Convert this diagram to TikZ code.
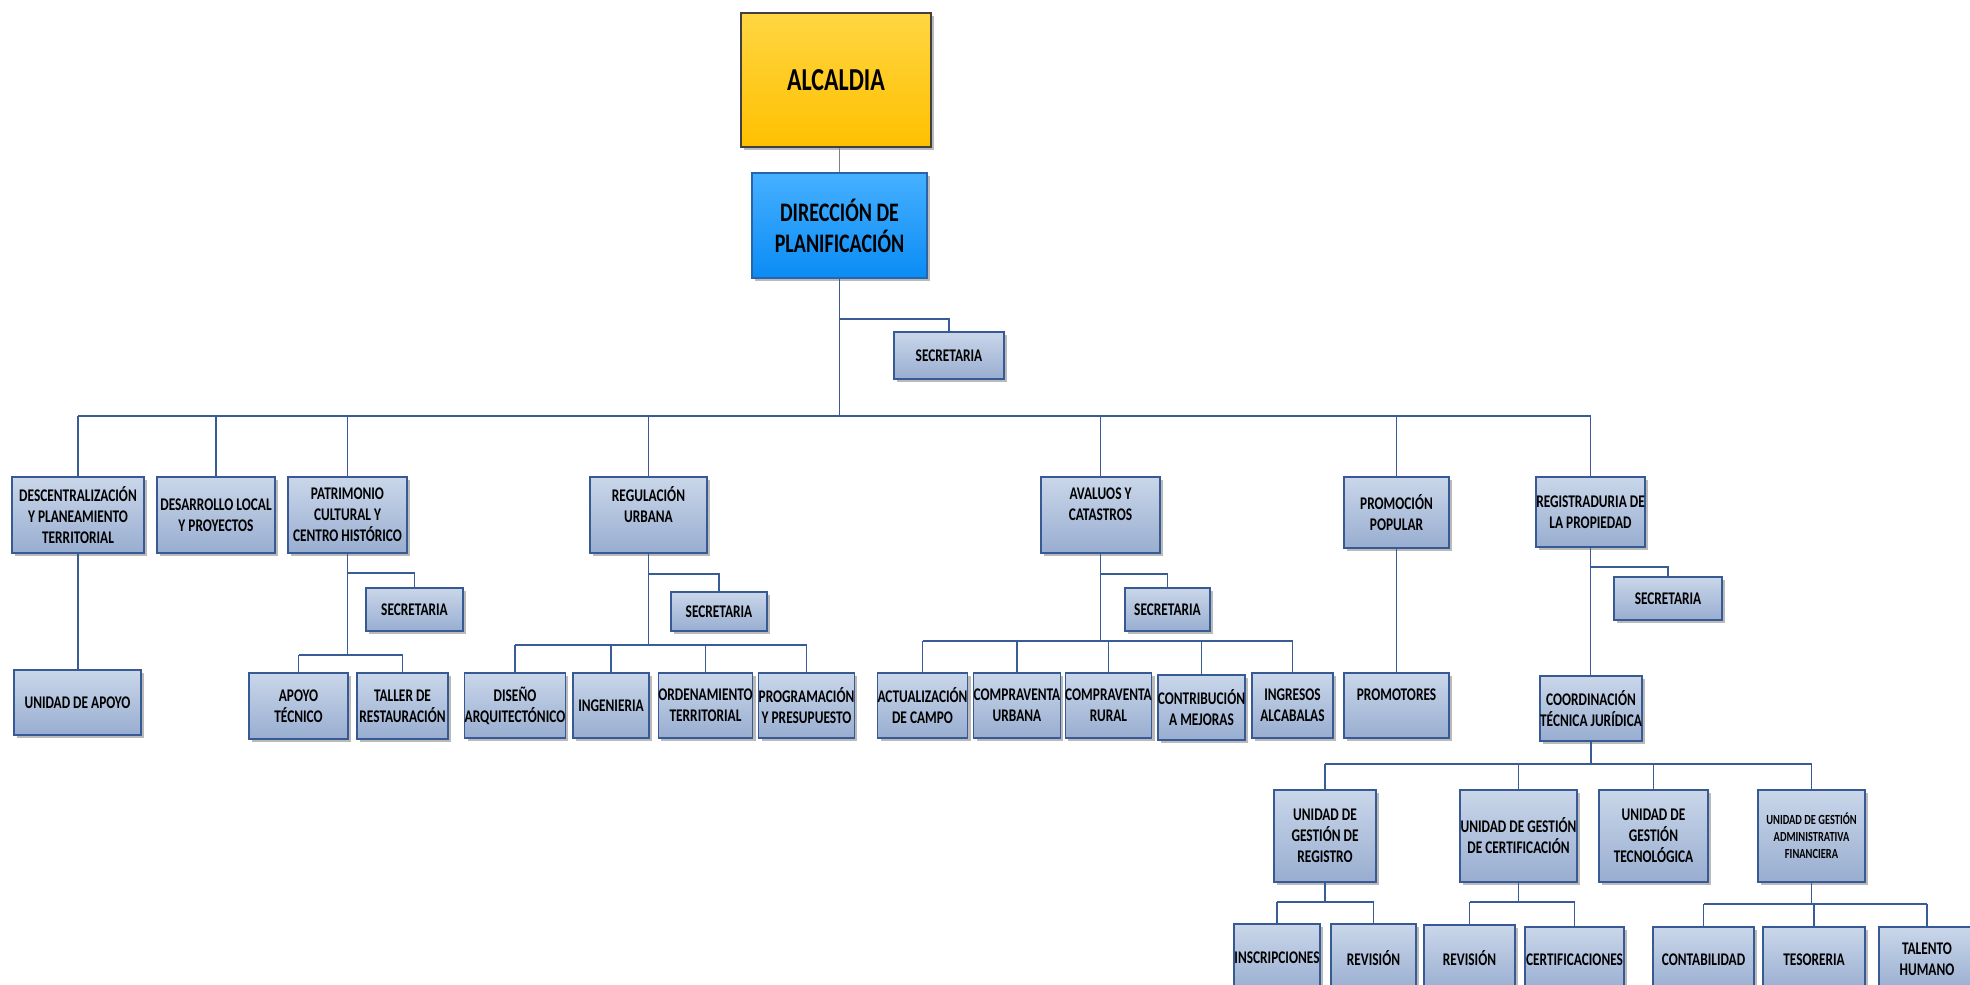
\documentclass[tikz,border=0pt]{standalone}
\usepackage{fontspec}
\setmainfont{Carlito}[FakeStretch=0.75]
\usetikzlibrary{shadows}
\definecolor{bxtop}{RGB}{202,215,234}
\definecolor{bxbot}{RGB}{152,173,208}
\definecolor{bxline}{RGB}{56,90,148}
\definecolor{cnline}{RGB}{58,92,150}
\definecolor{altop}{RGB}{255,214,66}
\definecolor{albot}{RGB}{255,192,0}
\definecolor{dirtop}{RGB}{70,176,255}
\definecolor{dirbot}{RGB}{10,140,245}
\definecolor{dirline}{RGB}{40,100,170}
\tikzset{
  box/.style={rectangle, inner sep=0pt, align=center, top color=bxtop, bottom color=bxbot,
    draw=bxline, line width=1.4pt, font=\bfseries\fontsize{17.8}{21}\selectfont,
    drop shadow={shadow xshift=3pt, shadow yshift=-3pt, fill=black!45, opacity=0.6}},
  alcbox/.style={box, top color=altop, bottom color=albot, draw=black!75, line width=2pt,
    font=\bfseries\fontsize{32}{38}\selectfont},
  dirbox/.style={box, top color=dirtop, bottom color=dirbot, draw=dirline, line width=2pt,
    font=\bfseries\fontsize{26.7}{31}\selectfont},
  smallbox/.style={box, font=\bfseries\fontsize{13.9}{17}\selectfont},
  conn/.style={draw=cnline, line width=1.3pt},
  greyconn/.style={draw=black!50, line width=1.5pt}
}
\newcommand\bx[7][box]{%
  \pgfmathsetmacro\bxcx{(#3+#5)/2}\pgfmathsetmacro\bxcy{(#4+#6)/2}%
  \pgfmathsetmacro\bxw{#5-#3}\pgfmathsetmacro\bxh{#6-#4}%
  \node[#1, minimum width=\bxw pt, minimum height=\bxh pt] (#2) at (\bxcx,\bxcy) {#7};}
\begin{document}
\begin{tikzpicture}[x=1pt,y=-1pt]
\fill[white] (0,0) rectangle (1970,985);
\clip (0,0) rectangle (1970,985);
% top
\bx[alcbox]{alc}{741}{13}{931}{147}{ALCALDIA}
\bx[dirbox]{dir}{752}{173}{927}{278}{DIRECCIÓN DE\\PLANIFICACIÓN}
\bx{sec0}{894}{332}{1004}{379}{SECRETARIA}
% level 1
\bx{desc}{12}{477}{144}{553}{DESCENTRALIZACIÓN\\Y PLANEAMIENTO\\TERRITORIAL}
\bx{desa}{157}{477}{275}{553}{DESARROLLO LOCAL\\Y PROYECTOS}
\bx{pat}{288}{477}{407}{553}{PATRIMONIO\\CULTURAL Y\\CENTRO HISTÓRICO}
\bx{reg}{590}{477}{707}{553}{REGULACIÓN\\URBANA\\\mbox{}}
\bx{ava}{1041}{477}{1160}{553}{AVALUOS Y\\CATASTROS\\\mbox{}}
\bx{pro}{1344}{477}{1449}{548}{PROMOCIÓN\\POPULAR}
\bx{rgp}{1536}{477}{1645}{547}{REGISTRADURIA DE\\LA PROPIEDAD}
% level 2
\bx{uap}{14}{670}{141}{735}{UNIDAD DE APOYO}
\bx{psec}{366}{588}{463}{631}{SECRETARIA}
\bx{apt}{249}{673}{348}{739}{APOYO\\TÉCNICO}
\bx{tal}{357}{673}{448}{739}{TALLER DE\\RESTAURACIÓN}
\bx{rsec}{671}{592}{767}{631}{SECRETARIA}
\bx{dis}{467}{673}{563}{738}{DISEÑO\\ARQUITECTÓNICO}
\bx{ing}{573}{673}{649}{738}{INGENIERIA}
\bx{ord}{660}{673}{751}{738}{ORDENAMIENTO\\TERRITORIAL}
\bx{prog}{759}{673}{854}{738}{PROGRAMACIÓN\\Y PRESUPUESTO}
\bx{asec}{1125}{588}{1210}{631}{SECRETARIA}
\bx{act}{878}{673}{967}{738}{ACTUALIZACIÓN\\DE CAMPO}
\bx{cu}{975}{673}{1059}{738}{COMPRAVENTA\\URBANA}
\bx{cr}{1067}{673}{1150}{738}{COMPRAVENTA\\RURAL}
\bx{con}{1160}{675}{1243}{740}{CONTRIBUCIÓN\\A MEJORAS}
\bx{ingr}{1252}{673}{1333}{738}{INGRESOS\\ALCABALAS}
\bx{prm}{1344}{673}{1449}{738}{PROMOTORES\\\mbox{}}
\bx{gsec}{1614}{577}{1722}{620}{SECRETARIA}
\bx{coo}{1542}{676}{1640}{741}{COORDINACIÓN\\TÉCNICA JURÍDICA}
% level 3
\bx{ugr}{1274}{790}{1376}{882}{UNIDAD DE\\GESTIÓN DE\\REGISTRO}
\bx{ugc}{1460}{790}{1577}{882}{UNIDAD DE GESTIÓN\\DE CERTIFICACIÓN}
\bx{ugt}{1599}{790}{1708}{882}{UNIDAD DE\\GESTIÓN\\TECNOLÓGICA}
\bx[smallbox]{uga}{1758}{790}{1865}{882}{UNIDAD DE GESTIÓN\\ADMINISTRATIVA\\FINANCIERA}
% level 4
\bx{ins}{1234}{924}{1320}{992}{INSCRIPCIONES}
\bx{rev1}{1331}{924}{1416}{992}{REVISIÓN}
\bx{rev2}{1424}{925}{1515}{992}{REVISIÓN}
\bx{cert}{1525}{927}{1624}{992}{CERTIFICACIONES}
\bx{cont}{1653}{927}{1754}{992}{CONTABILIDAD}
\bx{tes}{1763}{927}{1865}{992}{TESORERIA}
\bx{tah}{1879}{927}{1975}{992}{TALENTO\\HUMANO}
% bus levels
\coordinate (s0) at (0,319);
\coordinate (b0) at (0,416);
\coordinate (ps) at (0,573);
\coordinate (pb) at (0,655);
\coordinate (rs) at (0,574);
\coordinate (rb) at (0,645);
\coordinate (as) at (0,574);
\coordinate (ab) at (0,641);
\coordinate (gs) at (0,567);
\coordinate (cb) at (0,764);
\coordinate (ub) at (0,902);
\coordinate (fb) at (0,904);
% connectors
\draw[greyconn] (dir.north |- alc.south) -- (dir.north);
\draw[conn] (dir.south) -- (dir.south |- b0);
\draw[conn] (dir.south |- s0) -| (sec0.north);
\draw[conn] (desc.north |- b0) -- (rgp.north |- b0);
\foreach \n in {desc,desa,pat,reg,ava,pro,rgp} \draw[conn] (\n.north) -- (\n.north |- b0);
\draw[conn] (desc.south) -- (desc.south |- uap.north);
% patrimonio
\draw[conn] (pat.south) -- (pat.south |- pb);
\draw[conn] (pat.south |- ps) -| (psec.north);
\draw[conn] (apt.north |- pb) -- (tal.north |- pb);
\foreach \n in {apt,tal} \draw[conn] (\n.north) -- (\n.north |- pb);
% regulacion
\draw[conn] (reg.south) -- (reg.south |- rb);
\draw[conn] (reg.south |- rs) -| (rsec.north);
\draw[conn] (dis.north |- rb) -- (prog.north |- rb);
\foreach \n in {dis,ing,ord,prog} \draw[conn] (\n.north) -- (\n.north |- rb);
% avaluos
\draw[conn] (ava.south) -- (ava.south |- ab);
\draw[conn] (ava.south |- as) -| (asec.north);
\draw[conn] (act.north |- ab) -- (ingr.north |- ab);
\foreach \n in {act,cu,cr,con,ingr} \draw[conn] (\n.north) -- (\n.north |- ab);
% promocion
\draw[conn] (pro.south) -- (pro.south |- prm.north);
% registraduria
\draw[conn] (rgp.south) -- (rgp.south |- coo.north);
\draw[conn] (rgp.south |- gs) -| (gsec.north);
\draw[conn] (coo.south) -- (coo.south |- cb);
\draw[conn] (ugr.north |- cb) -- (uga.north |- cb);
\foreach \n in {ugr,ugc,ugt,uga} \draw[conn] (\n.north) -- (\n.north |- cb);
\draw[conn] (ugr.south) -- (ugr.south |- ub);
\draw[conn] (ins.north |- ub) -- (rev1.north |- ub);
\foreach \n in {ins,rev1} \draw[conn] (\n.north) -- (\n.north |- ub);
\draw[conn] (ugc.south) -- (ugc.south |- ub);
\draw[conn] (rev2.north |- ub) -- (cert.north |- ub);
\foreach \n in {rev2,cert} \draw[conn] (\n.north) -- (\n.north |- ub);
\draw[conn] (uga.south) -- (uga.south |- fb);
\draw[conn] (cont.north |- fb) -- (tah.north |- fb);
\foreach \n in {cont,tes,tah} \draw[conn] (\n.north) -- (\n.north |- fb);
\end{tikzpicture}
\end{document}
